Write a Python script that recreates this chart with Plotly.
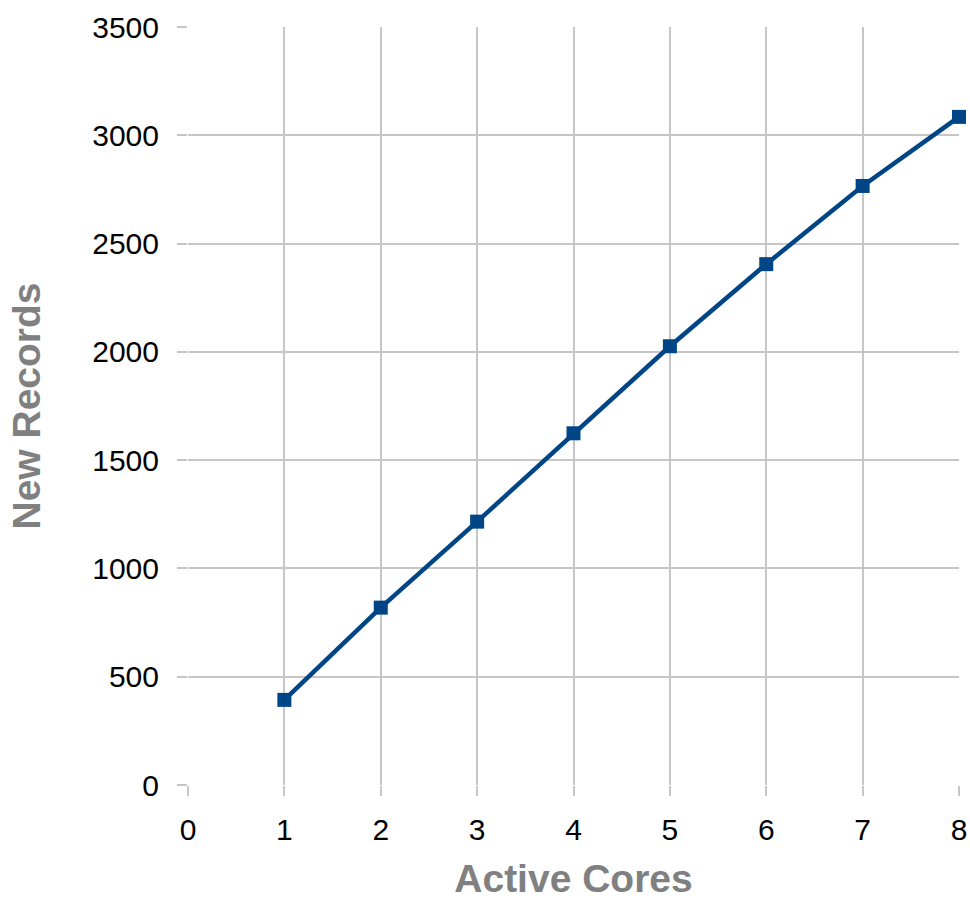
import plotly.graph_objects as go

cores = [1, 2, 3, 4, 5, 6, 7, 8]
new_records = [393, 819, 1216, 1624, 2026, 2405, 2766, 3085]

line_color = "#004586"
grid_color = "#c6c6c6"
title_color = "#808080"

fig = go.Figure()
fig.add_trace(go.Scatter(
    x=cores, y=new_records, mode="lines+markers",
    line=dict(color=line_color, width=4.5),
    marker=dict(symbol="square", size=14, color=line_color),
    cliponaxis=False,
))

font_family = "Liberation Sans, Arial, sans-serif"
fig.update_layout(
    width=970, height=900,
    margin=dict(l=188, r=11, t=27, b=115, autoexpand=False),
    paper_bgcolor="white", plot_bgcolor="white",
    showlegend=False,
    font=dict(family=font_family, size=30, color="#000000"),
    xaxis=dict(
        range=[0, 8], dtick=1, tick0=0,
        showgrid=True, gridcolor=grid_color, gridwidth=2,
        zeroline=False, showline=False,
        ticks="outside", ticklen=10, tickcolor=grid_color, tickwidth=2,
        tickfont=dict(size=30, family=font_family),
        ticklabelstandoff=8,
        automargin=False,
        title=dict(text="<b>Active Cores</b>", font=dict(size=39, color=title_color, family=font_family), standoff=26),
    ),
    yaxis=dict(
        range=[0, 3500], dtick=500, tick0=0,
        showgrid=True, gridcolor=grid_color, gridwidth=2,
        zeroline=False, showline=False,
        ticks="outside", ticklen=10, tickcolor=grid_color, tickwidth=2,
        tickfont=dict(size=30, family=font_family),
        ticklabelstandoff=12,
        automargin=False,
        title=dict(text="<b>New Records</b>", font=dict(size=39, color=title_color, family=font_family), standoff=39),
    ),
)

fig.write_html("out.html", config={"displayModeBar": False},
               post_script="document.body.style.margin='0';document.body.style.overflow='hidden';")
